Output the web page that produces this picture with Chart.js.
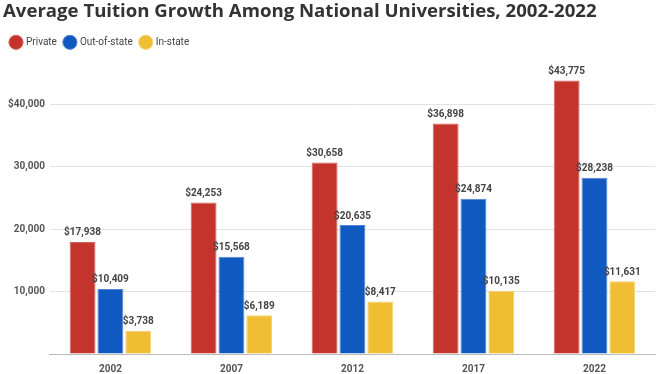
<!DOCTYPE html>
<html>
<head>
<meta charset="utf-8">
<script src="https://cdn.jsdelivr.net/npm/chart.js@4"></script>
<style>
  body { margin: 0; background: #fff; }
  #wrap { width: 659px; height: 374px; }
</style>
</head>
<body>
<div id="wrap"><canvas id="tuitionChart"></canvas></div>
<script>
const years = ['2002', '2007', '2012', '2017', '2022'];
const privateVals = [17938, 24253, 30658, 36898, 43775];
const outOfStateVals = [10409, 15568, 20635, 24874, 28238];
const inStateVals = [3738, 6189, 8417, 10135, 11631];
const yTicks = [0, 10000, 20000, 30000, 40000];

// draws the "$x,xxx" labels above each bar
const barLabels = {
    id: 'barLabels',
    afterDatasetsDraw(chart) {
        const ctx = chart.ctx;
        ctx.save();
        ctx.font = 'bold 10px Roboto';
        ctx.fillStyle = '#444';
        ctx.textAlign = 'center';
        ctx.textBaseline = 'bottom';
        chart.data.datasets.forEach((ds, i) => {
            chart.getDatasetMeta(i).data.forEach((bar, j) => {
                ctx.fillText('$' + ds.data[j].toLocaleString('en-US'), bar.x, bar.y - 4);
            });
        });
        ctx.restore();
    }
};

new Chart(document.getElementById('tuitionChart'), {
    type: 'bar',
    data: {
        labels: years,
        datasets: [
            { label: 'Private', data: privateVals, backgroundColor: '#c4342d', borderColor: '#d8605a', borderWidth: 1 },
            { label: 'Out-of-state', data: outOfStateVals, backgroundColor: '#1059c1', borderColor: '#4f84d4', borderWidth: 1 },
            { label: 'In-state', data: inStateVals, backgroundColor: '#f0be32', borderColor: '#f5d270', borderWidth: 1 }
        ]
    },
    options: {
        responsive: true,
        maintainAspectRatio: false,
        animation: false,
        categoryPercentage: 0.69,
        barPercentage: 0.93,
        layout: { padding: { left: 3, right: 4, top: 0, bottom: -2 } },
        plugins: {
            title: {
                display: true,
                text: 'Average Tuition Growth Among National Universities, 2002-2022',
                align: 'start',
                color: '#333',
                font: { family: 'Open Sans', size: 18.6, weight: 'bold' },
                padding: { top: 1, bottom: 6 }
            },
            legend: {
                align: 'start',
                labels: {
                    usePointStyle: true,
                    pointStyle: 'circle',
                    boxWidth: 11,
                    boxHeight: 11,
                    padding: 8,
                    color: '#444',
                    font: { family: 'Roboto', size: 10 }
                }
            },
            tooltip: { enabled: false }
        },
        scales: {
            x: {
                grid: { display: false },
                border: { color: '#bbb' },
                ticks: { padding: 1, color: '#555', font: { family: 'Roboto', size: 10, weight: 'bold' } }
            },
            y: {
                min: 0,
                max: 47500,
                border: { display: false },
                grid: { color: '#e2e2e2', drawTicks: false },
                ticks: {
                    padding: 5,
                    color: '#555',
                    font: { family: 'Roboto', size: 10, weight: 'bold' },
                    callback: v => v === 0 ? '' : (v === 40000 ? '$40,000' : v.toLocaleString('en-US'))
                },
                afterBuildTicks: axis => { axis.ticks = yTicks.map(v => ({ value: v })); }
            }
        }
    },
    plugins: [barLabels]
});
</script>
</body>
</html>
